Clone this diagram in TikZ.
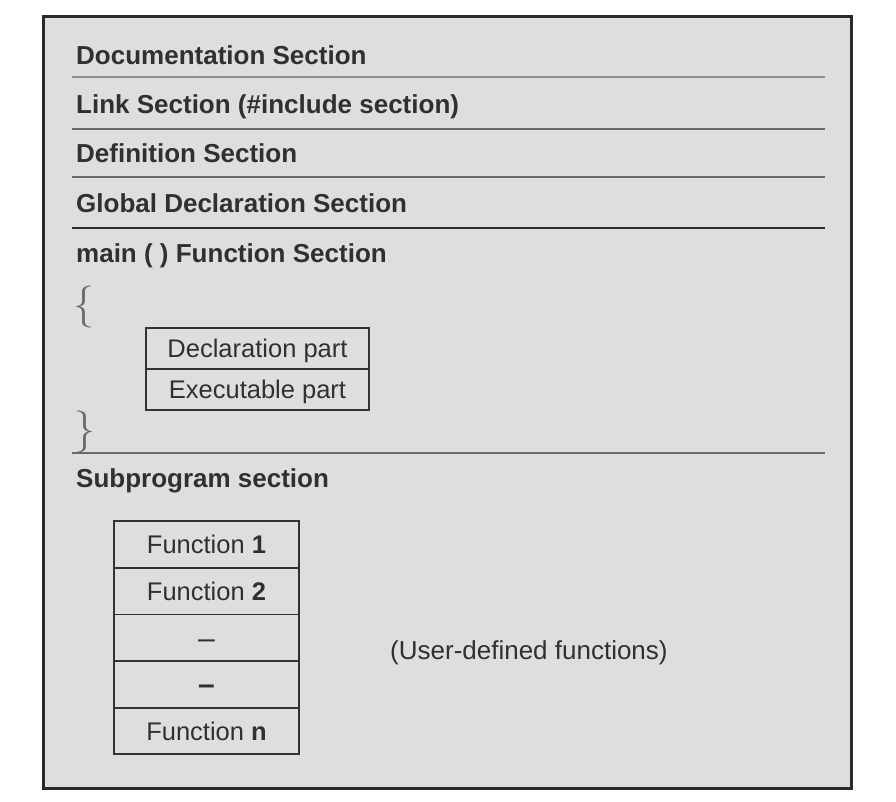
\documentclass[tikz,border=0pt]{standalone}
\usepackage{fontspec}
\usetikzlibrary{positioning}
\newfontfamily\arial{Liberation Sans}
\definecolor{bg}{HTML}{DEDEDE}
\definecolor{border}{HTML}{2A2A2A}
\definecolor{linec}{HTML}{6A6A6A}
\definecolor{linelight}{HTML}{8E8E8E}
\definecolor{txt}{HTML}{303030}
\definecolor{boxc}{HTML}{333333}
\begin{document}
\begin{tikzpicture}[x=1pt,y=-1pt,
  head/.style={anchor=base west, inner sep=0pt, text=txt, font=\arial\fontsize{26}{30}\selectfont\bfseries},
  plain/.style={anchor=base west, inner sep=0pt, text=txt, font=\arial\fontsize{26}{30}\selectfont},
  cell/.style={draw=boxc, line width=1.8pt, inner sep=0pt, outer sep=0pt, text=txt,
    font=\arial\fontsize{25.5}{30}\selectfont, text height=18.4pt, text depth=0pt},
  fcell/.style={cell, minimum width=185pt, minimum height=46.6pt},
  dcell/.style={cell, minimum width=223pt, minimum height=41pt},
  sepline/.style={draw=linec, line width=2.4pt},
  brace/.style={inner sep=0pt, text=linec, font=\fontsize{42}{42}\selectfont}]
\useasboundingbox (0,0) rectangle (896,802);
\draw[fill=bg, draw=border, line width=3pt] (43,17) rectangle (851,788);

% header texts
\node[head] (doc)  at (76,65)  {Documentation Section};
\node[head] (link) at (76,114) {Link Section (\#include section)};
\node[head] (def)  at (76,163) {Definition Section};
\node[head] (glob) at (76,213) {Global Declaration Section};
\node[head] (main) at (76,262) {main ( ) Function Section};
\node[head] (sub)  at (76,487) {Subprogram section};

% separator lines
\draw[sepline, draw=linelight] (72,77) -- (825,77);
\draw[sepline] (72,129) -- (825,129);
\draw[sepline] (72,177) -- (825,177);
\draw[sepline, draw=border] (72,228) -- (825,228);
\draw[sepline] (72,453) -- (825,453);

% braces
\node[brace] (lb) at (84,307) {\{};
\node[brace] (rb) at (85,432) {\}};

% main function parts
\node[dcell] (decl) at (257.5,348.5) {Declaration part};
\node[dcell, below=0pt of decl] (exec) {Executable part};

% subprogram functions
\node[fcell] (f1) at (206.5,544.5) {Function \textbf{1}};
\node[fcell, below=0pt of f1] (f2) {Function \textbf{2}};
\node[fcell, below=0pt of f2] (f3) {\raisebox{-2pt}{\fontsize{30}{30}\selectfont –}};
\node[fcell, below=0pt of f3] (f4) {\raisebox{-1pt}{\fontsize{30}{30}\selectfont\bfseries –}};
\node[fcell, below=0pt of f4] (fn) {Function \textbf{n}};

\node[plain] (user) at (390,659) {(User-defined functions)};
\end{tikzpicture}
\end{document}
